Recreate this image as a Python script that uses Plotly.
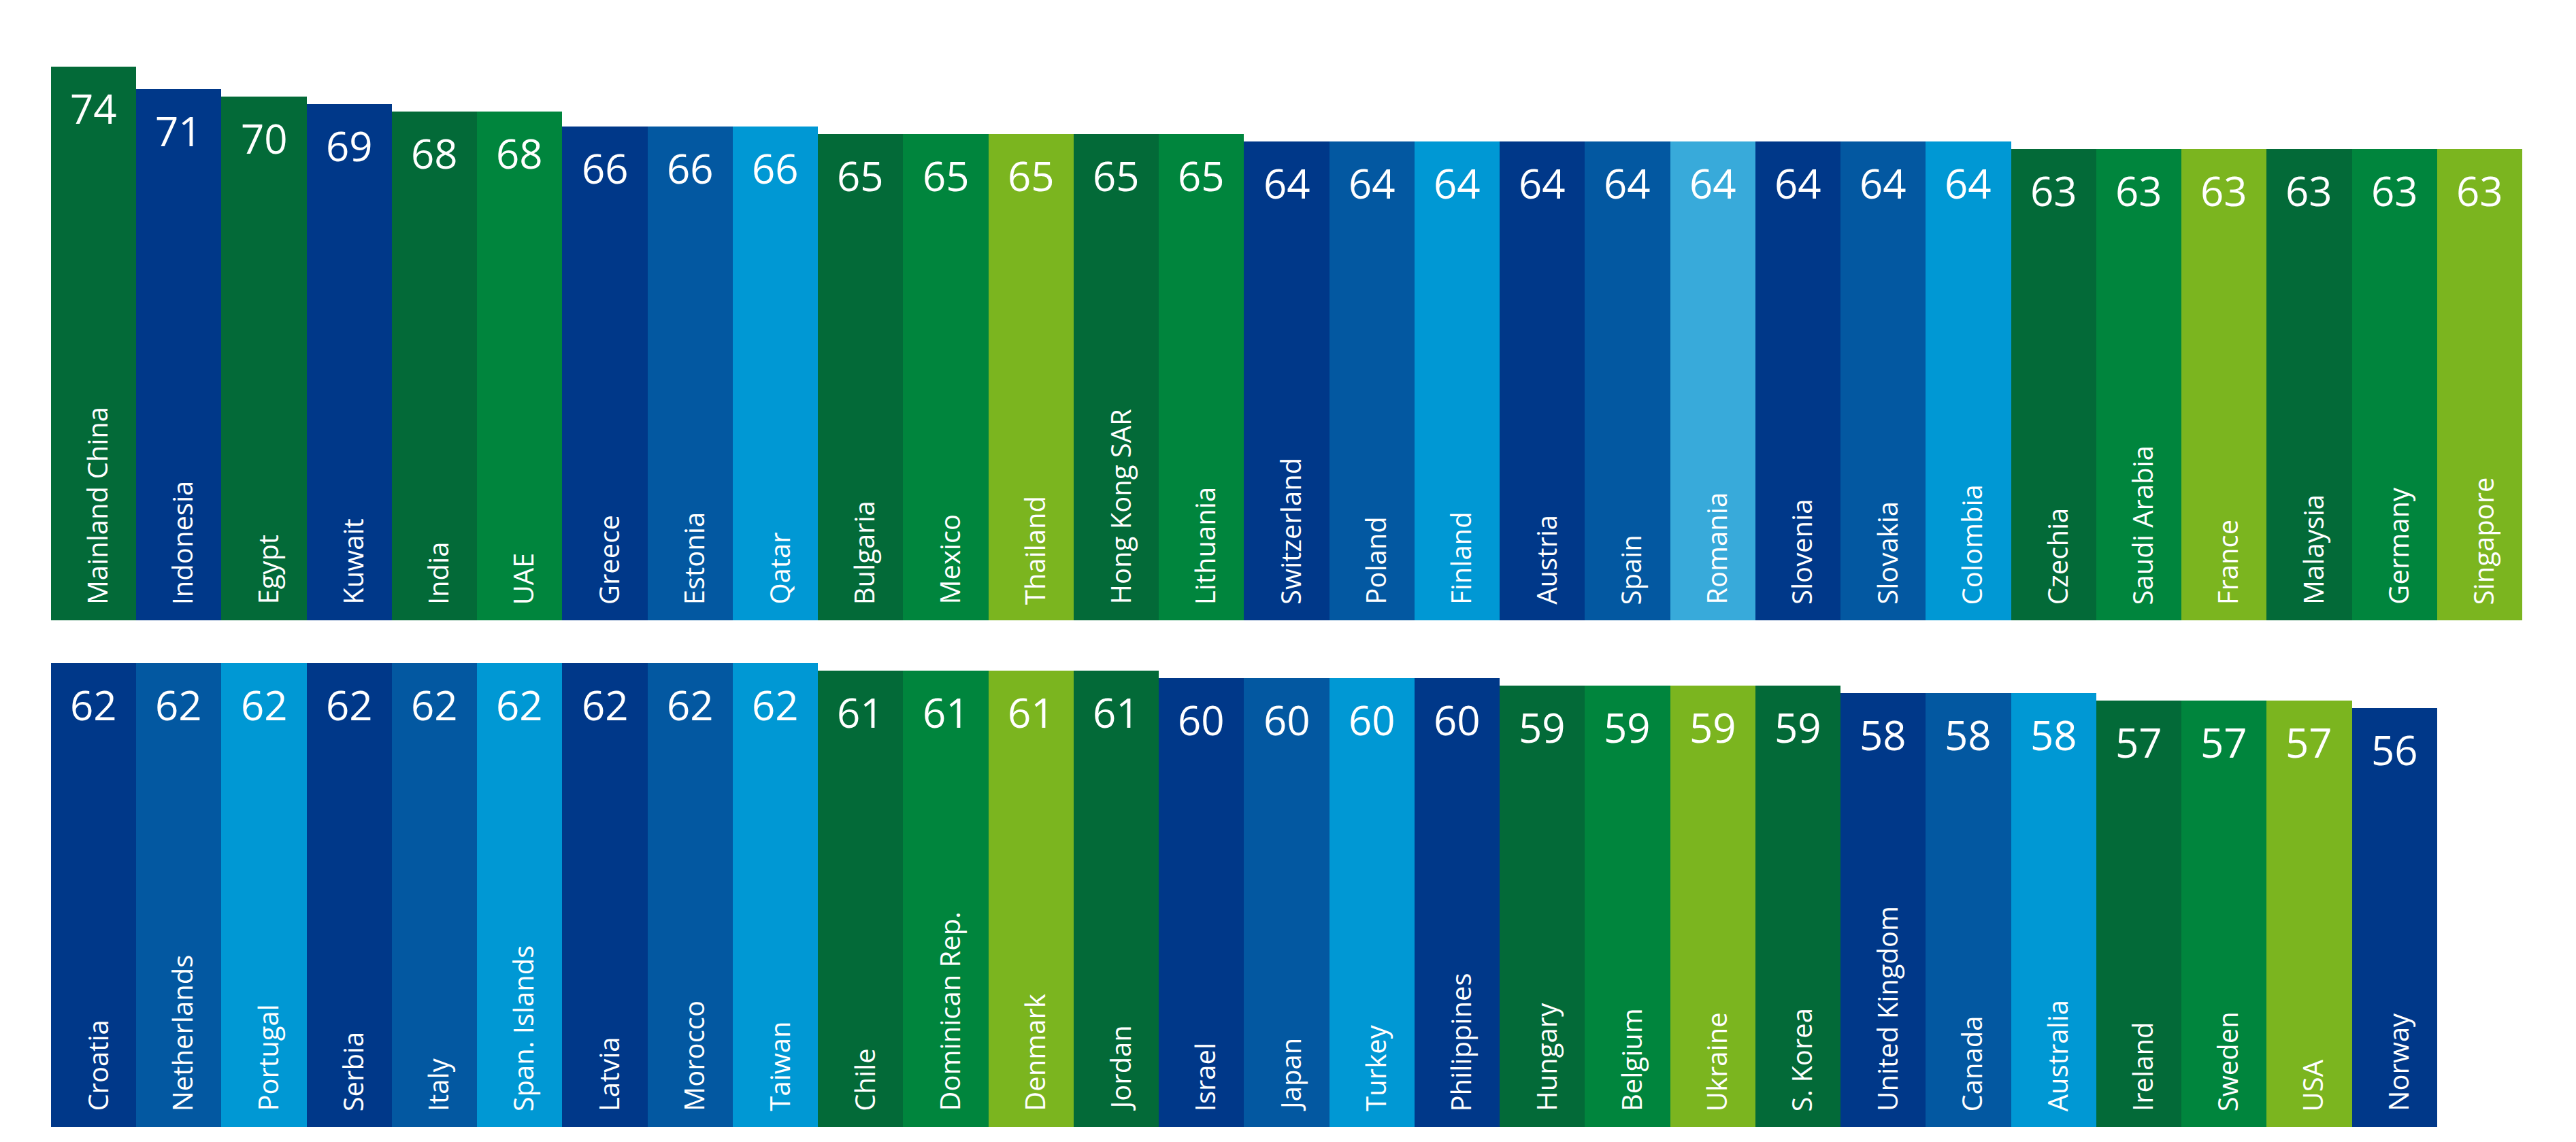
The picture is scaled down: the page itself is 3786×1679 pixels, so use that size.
import plotly.graph_objects as go

# ---------------- data ----------------
top_countries = ["Mainland China", "Indonesia", "Egypt", "Kuwait", "India", "UAE", "Greece", "Estonia",
                 "Qatar", "Bulgaria", "Mexico", "Thailand", "Hong Kong SAR", "Lithuania", "Switzerland",
                 "Poland", "Finland", "Austria", "Spain", "Romania", "Slovenia", "Slovakia", "Colombia",
                 "Czechia", "Saudi Arabia", "France", "Malaysia", "Germany", "Singapore"]
top_values = [74, 71, 70, 69, 68, 68, 66, 66, 66, 65, 65, 65, 65, 65, 64, 64, 64, 64, 64, 64, 64, 64, 64,
              63, 63, 63, 63, 63, 63]
top_colors = ["dg", "db", "dg", "db", "dg", "mg", "db", "mb", "lb", "dg", "mg", "lg", "dg", "mg", "db",
              "mb", "lb", "db", "mb", "sb", "db", "mb", "lb", "dg", "mg", "lg", "dg", "mg", "lg"]

bottom_countries = ["Croatia", "Netherlands", "Portugal", "Serbia", "Italy", "Span. Islands", "Latvia",
                    "Morocco", "Taiwan", "Chile", "Dominican Rep.", "Denmark", "Jordan", "Israel", "Japan",
                    "Turkey", "Philippines", "Hungary", "Belgium", "Ukraine", "S. Korea", "United Kingdom",
                    "Canada", "Australia", "Ireland", "Sweden", "USA", "Norway"]
bottom_values = [62, 62, 62, 62, 62, 62, 62, 62, 62, 61, 61, 61, 61, 60, 60, 60, 60, 59, 59, 59, 59,
                 58, 58, 58, 57, 57, 57, 56]
bottom_colors = ["db", "mb", "lb", "db", "mb", "lb", "db", "mb", "lb", "dg", "mg", "lg", "dg", "db", "mb",
                 "lb", "db", "dg", "mg", "lg", "dg", "db", "mb", "lb", "dg", "mg", "lg", "db"]

palette = {
    "dg": "#036A38",  # dark green
    "mg": "#00853D",  # medium green
    "lg": "#7BB51F",  # light green
    "db": "#003889",  # dark blue
    "mb": "#0358A1",  # medium blue
    "lb": "#0098D4",  # light blue
    "sb": "#38AADA",  # sky blue
}

# ---------------- geometry ----------------
OFF = 8                     # default body margin of the page
W, H = 3786 - OFF, 1679 - OFF
PX_PER_UNIT = 11.0


def px_x(x):
    return (x - OFF) / W


def px_y(y):
    return 1 - (y - OFF) / H


x_dom = [px_x(75), px_x(3707)]
top_dom = [px_y(912), 1.0]
top_range = [0, (912 - OFF) / PX_PER_UNIT]
bot_dom = [px_y(1657), px_y(930)]
bot_range = [0, (1657 - 930) / PX_PER_UNIT]

fig = go.Figure()

fig.add_trace(go.Bar(
    x=list(range(len(top_countries))), y=top_values,
    marker=dict(color=[palette[c] for c in top_colors], line=dict(width=0)),
    xaxis="x", yaxis="y", hoverinfo="skip", showlegend=False,
))
fig.add_trace(go.Bar(
    x=list(range(len(bottom_countries))), y=bottom_values,
    marker=dict(color=[palette[c] for c in bottom_colors], line=dict(width=0)),
    xaxis="x2", yaxis="y2", hoverinfo="skip", showlegend=False,
))

FONT = "Open Sans, Segoe UI, sans-serif"
annotations = []
for names, vals, xr, yr in [(top_countries, top_values, "x", "y"),
                            (bottom_countries, bottom_values, "x2", "y2")]:
    for i, (n, v) in enumerate(zip(names, vals)):
        annotations.append(dict(
            x=i, y=v, xref=xr, yref=yr, text=str(v), showarrow=False,
            xanchor="center", yanchor="top", yshift=-18,
            font=dict(family=FONT, size=60, color="white"),
        ))
        annotations.append(dict(
            x=i, y=0, xref=xr, yref=yr, text=n, showarrow=False, textangle=-90,
            xanchor="center", yanchor="bottom", yshift=21, xshift=5,
            font=dict(family=FONT, size=40, color="white"),
        ))

axis_common = dict(showgrid=False, zeroline=False, showline=False, showticklabels=False, ticks="",
                   fixedrange=True)

fig.update_layout(
    width=W, height=H, autosize=False,
    margin=dict(l=0, r=0, t=0, b=0, pad=0),
    paper_bgcolor="white", plot_bgcolor="white",
    bargap=0, barmode="overlay",
    xaxis=dict(domain=x_dom, range=[-0.5, 28.5], anchor="y", **axis_common),
    yaxis=dict(domain=top_dom, range=top_range, anchor="x", **axis_common),
    xaxis2=dict(domain=x_dom, range=[-0.5, 28.5], anchor="y2", **axis_common),
    yaxis2=dict(domain=bot_dom, range=bot_range, anchor="x2", **axis_common),
    annotations=annotations,
    shapes=[dict(type="line", xref="paper", yref="paper", x0=px_x(3785.5), x1=px_x(3785.5),
                 y0=0, y1=1, line=dict(color="#C8C8C8", width=1))],
)

fig.write_html("out.html")
